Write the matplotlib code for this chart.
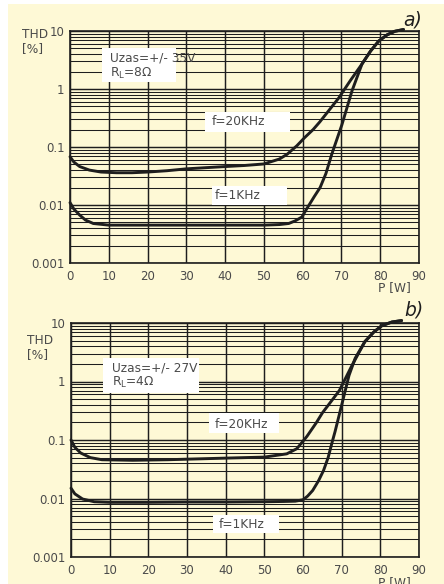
import matplotlib.pyplot as plt
from matplotlib.patches import Rectangle
from matplotlib.ticker import LogLocator, FixedLocator, NullFormatter

# --- data ---
# a) Uzas=+/-35V, RL=8 ohm
a_p_20k = [0, 1, 2.5, 5, 8, 12, 16, 20, 25, 30, 35, 40, 45, 50, 54, 56, 58.5,
           60.5, 62.7, 64.4, 66.8, 69.3, 72.3, 75.3, 77.5, 79.6, 81.8, 83.8, 86]
a_thd_20k = [0.068, 0.055, 0.046, 0.040, 0.037, 0.036, 0.036, 0.037, 0.039,
             0.042, 0.044, 0.046, 0.048, 0.051, 0.062, 0.075, 0.105, 0.145,
             0.2, 0.27, 0.43, 0.7, 1.4, 2.7, 4.5, 6.7, 8.6, 9.9, 10.6]
a_p_1k = [0, 1, 2.5, 4, 6, 10, 20, 30, 40, 50, 54, 56.4, 58, 59.8, 61, 63,
          64.5, 66, 67.5, 70.1, 72.7, 75.3, 77.5, 79.6, 81.8, 83.8, 86]
a_thd_1k = [0.011, 0.0085, 0.0067, 0.0055, 0.0048, 0.0045, 0.0045, 0.0045,
            0.0045, 0.0045, 0.0046, 0.0048, 0.0053, 0.0062, 0.0085, 0.014,
            0.02, 0.035, 0.075, 0.24, 0.92, 2.7, 4.5, 6.7, 8.6, 9.9, 10.6]

# b) Uzas=+/-27V, RL=4 ohm
b_p_20k = [0, 1, 2.5, 5, 8, 16, 25, 30, 40, 50, 55.8, 58.4, 61, 63.5, 65,
           67.2, 69.4, 72.7, 76, 78.3, 80.4, 83, 85.5]
b_thd_20k = [0.1, 0.075, 0.06, 0.05, 0.046, 0.045, 0.046, 0.047, 0.049, 0.051,
             0.058, 0.071, 0.115, 0.2, 0.29, 0.45, 0.7, 1.9, 4.8, 7.0, 9.0,
             10.4, 11.0]
b_p_1k = [0, 1, 3, 6, 10, 20, 30, 40, 50, 55, 58, 60, 61.2, 62.5, 64, 65.3,
          66.5, 67.5, 68.3, 70.1, 71.9, 73.5, 76, 78.3, 80.4, 83, 85.5]
b_thd_1k = [0.015, 0.012, 0.0098, 0.0088, 0.0086, 0.0086, 0.0087, 0.0087,
            0.0088, 0.0089, 0.009, 0.0095, 0.011, 0.0137, 0.02, 0.03, 0.05,
            0.09, 0.14, 0.42, 1.27, 2.5, 4.8, 7.0, 9.0, 10.4, 11.0]

x_ticks = [0, 10, 20, 30, 40, 50, 60, 70, 80, 90]
y_ticks = [0.001, 0.01, 0.1, 1, 10]
y_labels = ['0.001', '0.01', '0.1', '1', '10']

bg = '#fef9d6'
ink = '#1e1e1e'
txt = '#4a4a4a'

fig = plt.figure(figsize=(4.44, 5.84), dpi=100)
fig.patch.set_facecolor('white')
fig.patches.append(Rectangle((8 / 444, 0), 1, 580 / 584, transform=fig.transFigure,
                             facecolor=bg, edgecolor='none', zorder=-10))

ax1 = fig.add_axes([70 / 444, 1 - 263 / 584, 349 / 444, 232 / 584])
ax2 = fig.add_axes([71 / 444, 1 - 557 / 584, 348 / 444, 234 / 584])


def setup(ax):
    ax.set_facecolor(bg)
    ax.set_yscale('log')
    ax.set_xlim(0, 90)
    ax.set_ylim(0.001, 10)
    ax.xaxis.set_major_locator(FixedLocator(x_ticks))
    ax.set_xticklabels([str(v) for v in x_ticks])
    ax.yaxis.set_major_locator(FixedLocator(y_ticks))
    ax.set_yticklabels(y_labels)
    ax.yaxis.set_minor_locator(LogLocator(base=10, subs=range(2, 10), numticks=20))
    ax.yaxis.set_minor_formatter(NullFormatter())
    ax.tick_params(which='both', length=0, colors=txt, labelsize=8.5)
    ax.tick_params(axis='y', pad=4)
    ax.tick_params(axis='x', pad=5)
    ax.grid(True, which='major', color=ink, lw=1.05)
    ax.grid(True, which='minor', axis='y', color=ink, lw=0.75)
    for s in ax.spines.values():
        s.set_color(ink)
        s.set_linewidth(1.2)
    ax.set_axisbelow(True)


def label_box(ax, x0, x1, y0, y1):
    ax.add_patch(Rectangle((x0, y0), x1 - x0, y1 - y0, transform=ax.transAxes,
                           facecolor='white', edgecolor='none', zorder=3))


setup(ax1)
setup(ax2)

for ax, p20, t20, p1, t1 in [(ax1, a_p_20k, a_thd_20k, a_p_1k, a_thd_1k),
                             (ax2, b_p_20k, b_thd_20k, b_p_1k, b_thd_1k)]:
    ax.plot(p20, t20, color=ink, lw=2.1, clip_on=False, zorder=4,
            solid_capstyle='round', solid_joinstyle='round')
    ax.plot(p1, t1, color=ink, lw=2.1, clip_on=False, zorder=4,
            solid_capstyle='round', solid_joinstyle='round')

fs = 8.7
# top chart labels
label_box(ax1, 0.092, 0.304, 0.780, 0.927)
ax1.text(0.115, 0.884, 'Uzas=+/- 35V', transform=ax1.transAxes, fontsize=fs,
         color=txt, va='center', zorder=5)
ax1.text(0.115, 0.819, r'R$_\mathregular{L}$=8Ω', transform=ax1.transAxes,
         fontsize=fs, color=txt, va='center', zorder=5)
label_box(ax1, 0.387, 0.630, 0.565, 0.651)
ax1.text(0.407, 0.608, 'f=20KHz', transform=ax1.transAxes, fontsize=fs,
         color=txt, va='center', zorder=5)
label_box(ax1, 0.407, 0.622, 0.250, 0.332)
ax1.text(0.415, 0.289, 'f=1KHz', transform=ax1.transAxes, fontsize=fs,
         color=txt, va='center', zorder=5)

# bottom chart labels
label_box(ax2, 0.092, 0.368, 0.701, 0.850)
ax2.text(0.118, 0.808, 'Uzas=+/- 27V', transform=ax2.transAxes, fontsize=fs,
         color=txt, va='center', zorder=5)
ax2.text(0.118, 0.744, r'R$_\mathregular{L}$=4Ω', transform=ax2.transAxes,
         fontsize=fs, color=txt, va='center', zorder=5)
label_box(ax2, 0.397, 0.598, 0.530, 0.615)
ax2.text(0.414, 0.568, 'f=20KHz', transform=ax2.transAxes, fontsize=fs,
         color=txt, va='center', zorder=5)
label_box(ax2, 0.408, 0.598, 0.103, 0.179)
ax2.text(0.425, 0.141, 'f=1KHz', transform=ax2.transAxes, fontsize=fs,
         color=txt, va='center', zorder=5)

# axis titles and panel marks
fig.text(22 / 444, 1 - 34 / 584, 'THD', fontsize=fs, color=txt, va='center')
fig.text(22 / 444, 1 - 49 / 584, '[%]', fontsize=fs, color=txt, va='center')
fig.text(27 / 444, 1 - 340 / 584, 'THD', fontsize=fs, color=txt, va='center')
fig.text(27 / 444, 1 - 355 / 584, '[%]', fontsize=fs, color=txt, va='center')
fig.text(394 / 444, 1 - 288 / 584, 'P [W]', fontsize=fs, color=txt,
         ha='center', va='center')
fig.text(394 / 444, 1 - 583 / 584, 'P [W]', fontsize=fs, color=txt,
         ha='center', va='center')
fig.text(413 / 444, 1 - 20 / 584, 'a)', fontsize=13.5, color=ink, style='italic',
         ha='center', va='center')
fig.text(414 / 444, 1 - 310 / 584, 'b)', fontsize=13.5, color=ink, style='italic',
         ha='center', va='center')

plt.savefig('out.png', dpi=100, facecolor=fig.get_facecolor())
plt.close()
